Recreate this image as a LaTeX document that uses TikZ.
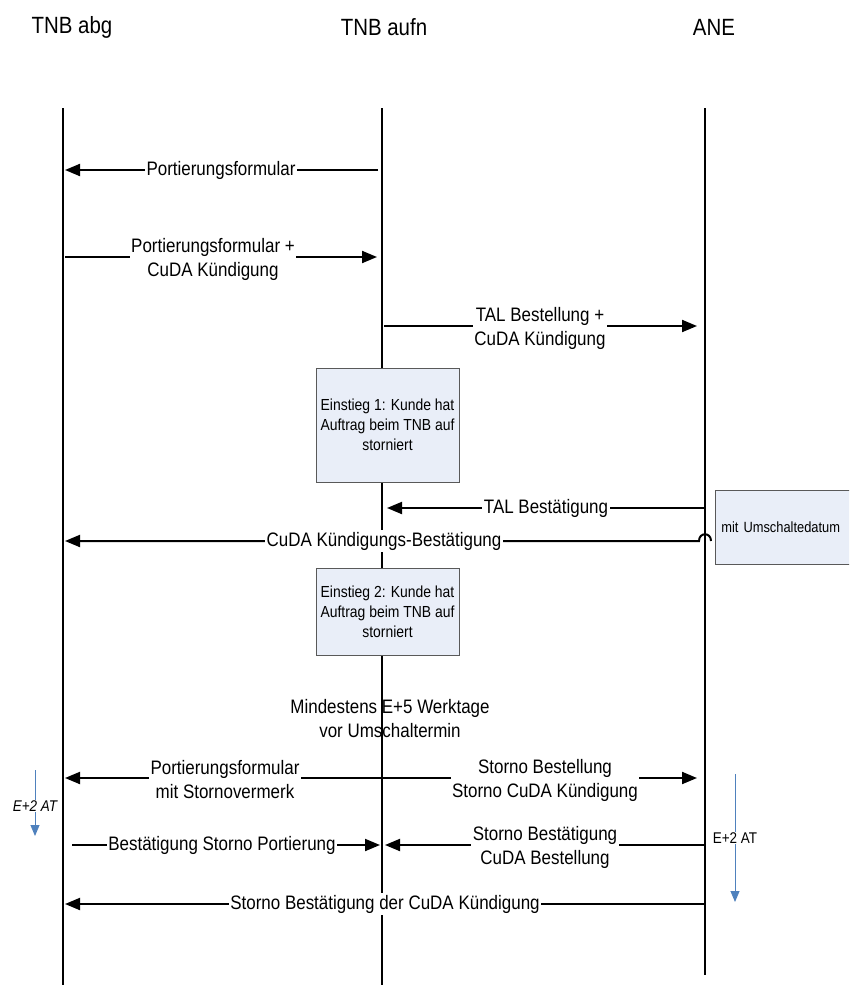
\documentclass[tikz,border=0pt]{standalone}
\usepackage{fontspec}
\setmainfont{Liberation Sans}[FakeStretch=0.87]
\usetikzlibrary{arrows.meta}
\definecolor{noteblue}{HTML}{E9EEF8}
\definecolor{spanblue}{HTML}{4F81BD}
\begin{document}
\begin{tikzpicture}[x=1pt,y=-1pt,
  lifeline/.style={line width=2.8pt},
  msg/.style={line width=2pt,-{Triangle[length=15pt,width=12pt]}},
  lbl/.style={fill=white,inner sep=1.5pt,align=center,font=\fontsize{19.5}{24}\selectfont},
  head/.style={font=\fontsize{23.5}{28}\selectfont},
  note/.style={draw=black!65,line width=0.8pt,fill=noteblue,align=center,
    font=\fontsize{16}{20}\selectfont,minimum width=143pt,inner sep=3pt},
  span/.style={draw=spanblue,line width=0.9pt,-{Triangle[length=11pt,width=9pt,fill=spanblue]}},
  spanlbl/.style={fill=white,inner sep=1pt,font=\fontsize{15.5}{18}\selectfont}
]
\useasboundingbox (0,0) rectangle (849,985);
\clip (0,0) rectangle (849,985);

% participants
\node[head] (hA) at (72,27) {TNB abg};
\node[head] (hB) at (384,27) {TNB aufn};
\node[head] (hC) at (714,27) {ANE};

% timing remark, crossed by the lifeline
\node[lbl,fill=none] (wait) at (390,719) {Mindestens E+5 Werktage\\vor Umschaltermin};

% lifelines
\coordinate (A0) at (63,108);  \coordinate (A1) at (63,990);
\coordinate (B0) at (382,108); \coordinate (B1) at (382,990);
\coordinate (C0) at (705,108); \coordinate (C1) at (705,975);
\draw[lifeline] (A0) -- (A1);
\draw[lifeline] (B0) -- (B1);
\draw[lifeline] (C0) -- (C1);

% 1: Portierungsformular
\coordinate (m1s) at (378,170); \coordinate (m1e) at (65,170);
\draw[msg] (m1s) -- (m1e);
\node[lbl] (l1) at (221,170) {Portierungsformular};

% 2: Portierungsformular + CuDA Kuendigung
\coordinate (m2s) at (65,257); \coordinate (m2e) at (377,257);
\draw[msg] (m2s) -- (m2e);
\node[lbl] (l2) at (213,259) {Portierungsformular +\\CuDA Kündigung};

% 3: TAL Bestellung
\coordinate (m3s) at (384,326); \coordinate (m3e) at (697,326);
\draw[msg] (m3s) -- (m3e);
\node[lbl] (l3) at (540,328) {TAL Bestellung +\\CuDA Kündigung};

% entry point 1
\node[note,minimum height=114pt] (e1) at (387.5,425) {Einstieg 1: Kunde hat\\Auftrag beim TNB auf\\storniert};

% 4: TAL Bestaetigung
\coordinate (m4s) at (705,508); \coordinate (m4e) at (387,508);
\draw[msg] (m4s) -- (m4e);
\node[lbl] (l4) at (546,508) {TAL Bestätigung};

% note on the ANE side
\node[note,anchor=north west,align=left,text width=134pt,inner xsep=6pt,
  minimum height=74pt,font=\fontsize{14.8}{18}\selectfont] (um) at (715,490) {mit Umschaltedatum};

% 5: CuDA Kuendigungs-Bestaetigung, hopping over the ANE lifeline
\coordinate (m5a) at (711,541); \coordinate (m5s) at (699,541); \coordinate (m5e) at (65,541);
\draw[msg] (m5a) .. controls (711,532) and (699,532) .. (m5s) -- (m5e);
\node[lbl] (l5) at (384,541) {CuDA Kündigungs-Bestätigung};

% entry point 2
\node[note,minimum height=87pt] (e2) at (387.5,611.5) {Einstieg 2: Kunde hat\\Auftrag beim TNB auf\\storniert};

% 6: cancellation sent both ways
\coordinate (m6c) at (382,778); \coordinate (m6l) at (65,778); \coordinate (m6r) at (697,778);
\draw[msg] (m6c) -- (m6l);
\draw[msg] (m6c) -- (m6r);
\node[lbl] (l6a) at (225,780) {Portierungsformular\\mit Stornovermerk};
\node[lbl] (l6b) at (545,780) {Storno Bestellung\\Storno CuDA Kündigung};

% 7: confirmations towards TNB aufn
\coordinate (m7s) at (72,845); \coordinate (m7e) at (380,845);
\draw[msg] (m7s) -- (m7e);
\node[lbl] (l7a) at (222,845) {Bestätigung Storno Portierung};
\coordinate (m8s) at (705,845); \coordinate (m8e) at (385,845);
\draw[msg] (m8s) -- (m8e);
\node[lbl] (l8) at (545,847) {Storno Bestätigung\\CuDA Bestellung};

% 9: final confirmation
\coordinate (m9s) at (705,904); \coordinate (m9e) at (65,904);
\draw[msg] (m9s) -- (m9e);
\node[lbl] (l9) at (385,904) {Storno Bestätigung der CuDA Kündigung};

% deadlines
\coordinate (bL0) at (35,770); \coordinate (bL1) at (35,836);
\draw[span] (bL0) -- (bL1);
\node[spanlbl,font=\fontsize{15.5}{18}\selectfont\itshape] (tL) at (35,806) {E+2 AT};
\coordinate (bR0) at (735,774); \coordinate (bR1) at (735,902);
\draw[span] (bR0) -- (bR1);
\node[spanlbl] (tR) at (735,838) {E+2 AT};
\end{tikzpicture}
\end{document}
